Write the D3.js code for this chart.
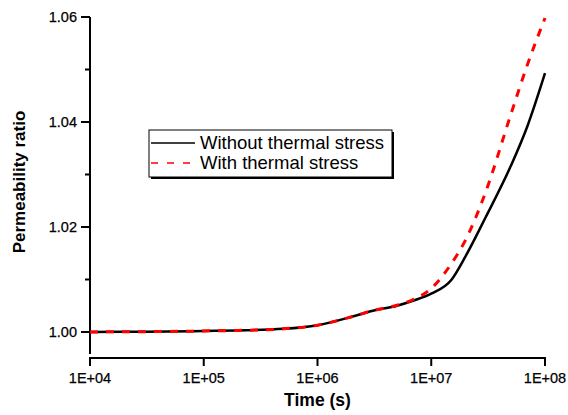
<!DOCTYPE html>
<html>
<head>
<meta charset="utf-8">
<script src="https://cdn.jsdelivr.net/npm/d3@7"></script>
<style>
  html, body { margin: 0; padding: 0; background: #fff; }
  svg { display: block; font-family: "Liberation Sans", Arial, sans-serif; }
</style>
</head>
<body>
<svg id="chart" width="568" height="415"></svg>
<script>
// ---- data ----
const times = [1e4, 2e4, 5e4, 1e5, 2e5, 5e5, 1e6, 2e6, 3e6, 5e6, 7e6, 1e7, 1.5e7, 2e7, 3e7, 5e7, 7e7, 1e8];
const withoutThermal = [1.0000, 1.00005, 1.0001, 1.0002, 1.0003, 1.0006, 1.0013, 1.0029, 1.0040, 1.0050, 1.0060, 1.0073, 1.0099, 1.0144, 1.0218, 1.0316, 1.0392, 1.0493];
const withThermal    = [1.0000, 1.00005, 1.0001, 1.0002, 1.0003, 1.0006, 1.0013, 1.0029, 1.0040, 1.0051, 1.0062, 1.0083, 1.0130, 1.0175, 1.0266, 1.0414, 1.0509, 1.0598];
const seriesNames = ["Without thermal stress", "With thermal stress"];
const xTickValues = [1e4, 1e5, 1e6, 1e7, 1e8];
const xTickLabels = ["1E+04", "1E+05", "1E+06", "1E+07", "1E+08"];
const yMajorTicks = [1.00, 1.02, 1.04, 1.06];
const yMinorTicks = [1.01, 1.03, 1.05];
const xTitle = "Time (s)";
const yTitle = "Permeability ratio";

const svg = d3.select("#chart");

const x = d3.scaleLog().domain([1e4, 1e8]).range([90, 545]);
const y = d3.scaleLinear().domain([1.00, 1.06]).range([332, 17]);
const yBottom = 354; // y-axis line ends here
const xAxisY = 358;  // offset x axis

// y axis
const yAxisG = svg.append("g").attr("transform", "translate(90,0)");
yAxisG.append("line").attr("x1", 0).attr("x2", 0).attr("y1", y(1.06)).attr("y2", yBottom)
  .attr("stroke", "#000").attr("stroke-width", 2);
yAxisG.selectAll(".maj").data(yMajorTicks).join("line")
  .attr("x1", -9).attr("x2", 0).attr("y1", d => y(d)).attr("y2", d => y(d))
  .attr("stroke", "#000").attr("stroke-width", 2);
yAxisG.selectAll(".min").data(yMinorTicks).join("line")
  .attr("x1", -5).attr("x2", 0).attr("y1", d => y(d)).attr("y2", d => y(d))
  .attr("stroke", "#000").attr("stroke-width", 2);
yAxisG.selectAll(".lab").data(yMajorTicks).join("text")
  .attr("x", -13).attr("y", d => y(d)).attr("dy", "0.35em")
  .attr("text-anchor", "end").attr("font-size", 14.5).attr("fill", "#000")
  .attr("stroke", "#000").attr("stroke-width", 0.25)
  .text(d => d3.format(".2f")(d));

// x axis
const xAxisG = svg.append("g").attr("transform", `translate(0,${xAxisY})`);
xAxisG.append("line").attr("x1", x(1e4) - 1).attr("x2", x(1e8) + 1).attr("y1", 0).attr("y2", 0)
  .attr("stroke", "#000").attr("stroke-width", 2);
xAxisG.selectAll(".tk").data(xTickValues).join("line")
  .attr("x1", d => x(d)).attr("x2", d => x(d)).attr("y1", -1).attr("y2", 8)
  .attr("stroke", "#000").attr("stroke-width", 2);
xAxisG.selectAll(".lab").data(xTickValues).join("text")
  .attr("x", d => x(d)).attr("y", 25)
  .attr("text-anchor", "middle").attr("font-size", 14.5).attr("fill", "#000")
  .attr("stroke", "#000").attr("stroke-width", 0.25)
  .text((d, i) => xTickLabels[i]);

// titles
svg.append("text").attr("x", (x(1e4) + x(1e8)) / 2).attr("y", 406)
  .attr("text-anchor", "middle").attr("font-size", 17.5).attr("font-weight", "bold").text(xTitle);
svg.append("text").attr("transform", "translate(25,182) rotate(-90)")
  .attr("text-anchor", "middle").attr("font-size", 17).attr("font-weight", "bold").text(yTitle);

// lines
const line = d3.line().x(d => x(d[0])).y(d => y(d[1])).curve(d3.curveMonotoneX);
svg.append("path").datum(times.map((t, i) => [t, withoutThermal[i]]))
  .attr("d", line).attr("fill", "none").attr("stroke", "#000").attr("stroke-width", 2.5);
svg.append("path").datum(times.map((t, i) => [t, withThermal[i]]))
  .attr("d", line).attr("fill", "none").attr("stroke", "#ff0000").attr("stroke-width", 3)
  .attr("stroke-dasharray", "8,8");

// legend
const lg = svg.append("g");
lg.append("rect").attr("x", 151).attr("y", 132).attr("width", 243).attr("height", 47).attr("fill", "#000");
lg.append("rect").attr("x", 149).attr("y", 130).attr("width", 243).attr("height", 47)
  .attr("fill", "#fff").attr("stroke", "#000").attr("stroke-width", 1);
lg.append("line").attr("x1", 151).attr("x2", 195).attr("y1", 143).attr("y2", 143)
  .attr("stroke", "#000").attr("stroke-width", 1.5);
lg.append("line").attr("x1", 151).attr("x2", 195).attr("y1", 163).attr("y2", 163)
  .attr("stroke", "#ff0000").attr("stroke-width", 1.5).attr("stroke-dasharray", "7,9");
lg.selectAll(".lt").data(seriesNames).join("text")
  .attr("x", 200).attr("y", (d, i) => 149 + i * 20)
  .attr("font-size", 18.5).attr("fill", "#000").text(d => d);
</script>
</body>
</html>
